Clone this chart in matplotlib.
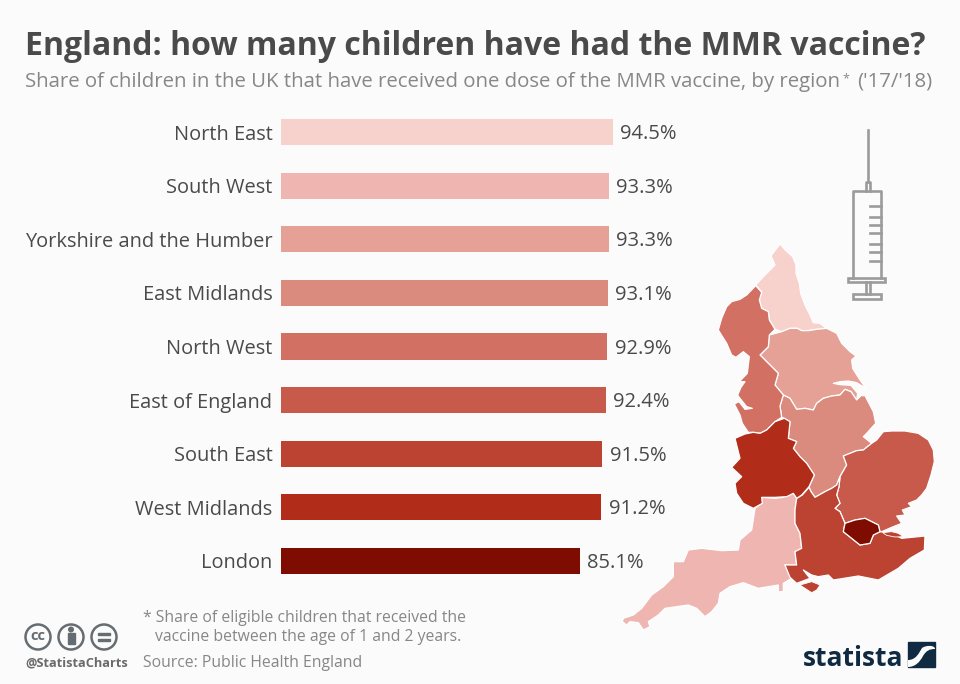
# numpy нужен только для позиций столбцов
import numpy as np
import matplotlib.pyplot as plt
from matplotlib.patches import Polygon, Rectangle, Circle, PathPatch
from matplotlib.path import Path

plt.rcParams['font.family'] = ['Open Sans', 'DejaVu Sans']

regions = ['North East', 'South West', 'Yorkshire and the Humber', 'East Midlands',
           'North West', 'East of England', 'South East', 'West Midlands', 'London']
shares = [94.5, 93.3, 93.3, 93.1, 92.9, 92.4, 91.5, 91.2, 85.1]
colors = ['#f7d1cc', '#efb6b1', '#e5a196', '#db8a7e', '#d37064',
          '#c85a4b', '#bc4232', '#b22c1a', '#7f0c00']

BG = '#fbfbfb'
TEXT = '#4a4a4a'
GREY = '#878787'
NAVY = '#0f2a41'


def crop_a(*pts):
    return [(710 + x / 3, 240 + y / 3) for x, y in pts]


def crop_b(*pts):
    return [(725 + x / 3, 380 + y / 3) for x, y in pts]


def crop_c(*pts):
    return [(615 + x / 3, 490 + y / 3) for x, y in pts]


outlines = {
    'North East': crop_a((210,12),(228,32),(248,50),(258,75),(258,100),(268,130),(272,160),(285,195),
                         (300,225),(310,248),(330,250),(350,265),(320,268),(295,272),(275,272),(262,265),
                         (240,265),(215,275),(195,268),(178,240),(175,215),(155,205),(148,180),(155,155),
                         (137,135),(165,105),(180,90),(195,75),(183,47)),
    'North West': crop_a((137,137),(155,157),(148,180),(155,205),(175,215),(178,240),(195,268),(178,285),
                         (175,320),(150,345),(170,365),(205,400),(195,435),(220,465))
                  + crop_b((165,78),(170,112),(150,125),(125,150),(105,160),(85,157),(70,157),(52,130),
                           (45,105),(28,72),(42,65),(60,88),(82,85),(65,80),(45,55),(38,45),(48,22),(60,5))
                  + crop_a((88,425),(112,400),(118,350),(100,335),(78,352),(65,345),(50,310),(25,270),
                           (35,235),(50,200),(65,185),(90,178),(110,165)),
    'Yorkshire and the Humber': crop_a((178,285),(215,275),(240,265),(262,265),(275,272),(295,272),(320,268),
                         (350,265),(380,280),(395,310),(420,335),(438,348),(425,360),(428,385),(450,420),(468,445))
                  + crop_b((395,8),(370,3),(345,5),(325,10),(345,14),(378,16),(398,40),(395,60),(378,35),
                           (360,28),(345,45),(320,48),(295,55),(275,70),(265,90),(240,85),(215,88),(195,55),(175,45))
                  + crop_a((195,435),(205,400),(170,365),(150,345),(175,320)),
    'East Midlands': crop_b((175,45),(195,55),(215,88),(240,85),(265,90),(275,70),(295,55),(320,48),(345,45),
                            (360,28),(378,35),(395,60),(408,47),(420,47),(445,95),(452,130),(425,160),(415,170),
                            (440,190),(415,210),(395,212),(355,228),(365,255),(345,290),(335,315),(320,325),
                            (300,335),(270,352),(258,335),(252,320),(268,285),(245,250),(225,230),(205,205),
                            (215,185),(190,175),(195,125),(178,115),(170,112),(165,78)),
    'East of England': crop_b((475,155),(500,153),(540,153),(580,160),(610,180),(625,210),(628,245),(618,285),
                              (605,325),(590,345))
                  + crop_c((905,30),(880,40),(890,50),(862,60),(870,75),(845,78),(860,100),(830,112),(800,125),
                           (795,125),(790,105),(770,95),(750,85),(720,90),(690,100),(675,65),(660,55),(675,40),
                           (665,15),(672,-10))
                  + crop_b((345,290),(365,255),(355,228),(395,212),(415,210),(440,190),(455,180)),
    'West Midlands': crop_b((178,115),(195,125),(190,175),(215,185),(205,205),(225,230),(245,250),(268,285),
                            (252,320),(230,345),(215,355),(205,340),(185,350),(150,352),(110,352),(112,370),
                            (85,385),(55,370),(35,340),(30,310),(50,290),(20,262),(45,235),(30,175),(60,162),
                            (85,157),(105,160),(125,150),(150,125)),
    'South West': crop_c((440,22),(480,25),(505,22),(525,10),(535,10),(545,25),(540,60),(540,100),(555,130),
                         (560,175),(540,185),(545,225),(510,225),(530,265),(505,280),(505,305),(490,305),
                         (490,285),(430,295),(385,278),(345,290),(315,310),(310,340),(290,365),(270,380),
                         (245,355),(220,345),(150,355),(130,375),(100,395),(105,410),(85,420),(70,398),
                         (45,395),(35,405),(22,395),(25,385),(55,375),(80,355),(110,315),(145,290),(175,260),
                         (175,215),(205,215),(220,180),(260,175),(320,182),(370,180),(375,150),(410,120),
                         (420,55),(440,40)),
    'South East': crop_b((215,355),(232,345),(252,322),(258,335),(270,352),(300,335),(320,325),(335,315),
                         (345,290))
                  + crop_c((672,-10),(665,15),(675,40),(660,55),(675,65),(690,100),(685,125),(710,145),(735,165),
                           (765,160),(775,135),(795,125),(830,130),(860,145),(930,138),(928,180),(885,205),
                           (850,235),(790,270),(730,258),(655,270),(640,255),(610,260),(590,255),(565,240),
                           (585,265),(545,280),(525,262),(510,225),(545,225),(540,185),(560,175),(555,130),
                           (540,100),(540,60)),
    'London': crop_c((690,100),(720,90),(750,85),(770,95),(790,105),(795,125),(775,135),(765,160),(735,165),
                     (710,145),(685,125)),
}
wight = crop_c((555,285),(590,275),(615,285),(605,300),(590,308),(570,295))
sheppey = crop_c((803,128),(830,125),(850,130),(865,140),(840,141),(815,136))

fig = plt.figure(figsize=(9.6, 6.84), dpi=100, facecolor=BG)

# столбцы
ax = fig.add_axes([281 / 960, 1 - 587.8 / 684, 351.3 / 960, 482.6 / 684], facecolor='none')
pos = np.arange(len(regions))
ax.barh(pos, shares, height=0.485, color=colors)
ax.set_xlim(0, 100)
ax.set_ylim(8.5, -0.5)
ax.set_xticks([])
ax.set_yticks(pos, regions)
ax.tick_params(axis='y', length=0, pad=6.2, labelsize=14.45, labelcolor=TEXT)
for side in ax.spines.values():
    side.set_visible(False)
for y, val in zip(pos, shares):
    ax.annotate(f'{val}%', (val, y), xytext=(5.2, -1.5), textcoords='offset points',
                va='center', ha='left', fontsize=14.5, color=TEXT)

# подложка в пикселях: заголовки, карта, шприц, подписи
ov = fig.add_axes([0, 0, 1, 1], facecolor='none')
ov.set_xlim(0, 960)
ov.set_ylim(684, 0)
ov.axis('off')

ov.text(25, 55, 'England: how many children have had the MMR vaccine?', fontsize=23,
        fontweight='bold', color=TEXT, va='baseline')
ov.text(25, 87, 'Share of children in the UK that have received one dose of the MMR vaccine, by region',
        fontsize=14.7, color=GREY, va='baseline')
ov.text(842, 82, '*', fontsize=9, color=GREY, va='baseline')
ov.text(857, 87, "('17/'18)", fontsize=14.7, color=GREY, va='baseline')

for name in regions:
    ov.add_patch(Polygon(outlines[name], closed=True, facecolor=colors[regions.index(name)],
                         edgecolor='white', linewidth=0.9, joinstyle='round'))
ov.add_patch(Polygon(wight, closed=True, facecolor=colors[6], edgecolor='white', linewidth=0.6))
ov.add_patch(Polygon(sheppey, closed=True, facecolor=colors[6], edgecolor='white', linewidth=0.6))


def syr(*pts):
    return [(600 + x / 3, 120 + y / 3) for x, y in pts]


SYR = '#9b9b9b'
LW = 1.9
ov.plot(*zip(*syr((803, 30), (803, 187))), color=SYR, lw=LW)
ov.plot(*zip(*syr((797, 212), (797, 187), (810, 187), (810, 212))), color=SYR, lw=LW)
ov.plot(*zip(*syr((760, 473), (760, 213), (843, 213), (843, 473))), color=SYR, lw=LW)
for tick_y in [258, 290, 315, 340, 372, 397, 423]:
    ov.plot(*zip(*syr((810, tick_y), (843, tick_y))), color=SYR, lw=LW)
ov.add_patch(Polygon(syr((745, 473), (855, 473), (855, 487), (745, 487)), closed=True,
                     fill=False, edgecolor=SYR, lw=LW))
ov.plot(*zip(*syr((797, 487), (797, 522))), color=SYR, lw=LW)
ov.plot(*zip(*syr((810, 487), (810, 522))), color=SYR, lw=LW)
ov.add_patch(Polygon(syr((760, 522), (843, 522), (843, 537), (760, 537)), closed=True,
                     fill=False, edgecolor=SYR, lw=LW))

# сноска и источник
ov.text(143, 622, '* Share of eligible children that received the', fontsize=11.3, color=GREY, va='baseline')
ov.text(155, 641, 'vaccine between the age of 1 and 2 years.', fontsize=11.3, color=GREY, va='baseline')
ov.text(143, 667, 'Source: Public Health England', fontsize=11.3, color=GREY, va='baseline')
ov.text(25, 667, '@StatistaCharts', fontsize=9.2, fontweight='bold', color='#6a6a6a', va='baseline')

# значки CC
ICON = '#666d72'
for cx in [38, 71, 104]:
    ov.add_patch(Circle((cx, 637), 12.5, fill=False, edgecolor=ICON, lw=1.8))
ov.text(38, 636.5, 'cc', fontsize=10.5, fontweight='bold', color=ICON, ha='center', va='center')
ov.add_patch(Circle((71, 629.5), 2.3, color=ICON))
ov.add_patch(Rectangle((67.5, 633), 7, 11, color=ICON))
ov.add_patch(Rectangle((98, 632.5), 12, 2.6, color=ICON))
ov.add_patch(Rectangle((98, 638.5), 12, 2.6, color=ICON))

# логотип statista
ov.text(803, 666, 'statista', fontsize=19, fontweight='bold', color=NAVY, va='baseline')
ov.add_patch(Rectangle((908, 642), 27, 25, color=NAVY))
swoosh = Path([(908, 660), (916, 660), (919, 653), (922, 648), (926, 645), (935, 645),
               (935, 649), (929, 649), (926, 651), (923, 656), (920, 662), (915, 667), (908, 667)],
              [Path.MOVETO, Path.CURVE4, Path.CURVE4, Path.CURVE4, Path.CURVE4, Path.LINETO,
               Path.LINETO, Path.CURVE4, Path.CURVE4, Path.CURVE4, Path.CURVE4, Path.CURVE4, Path.LINETO])
ov.add_patch(PathPatch(swoosh, facecolor=BG, edgecolor='none'))

fig.savefig('out.png', dpi=100, facecolor=BG)
